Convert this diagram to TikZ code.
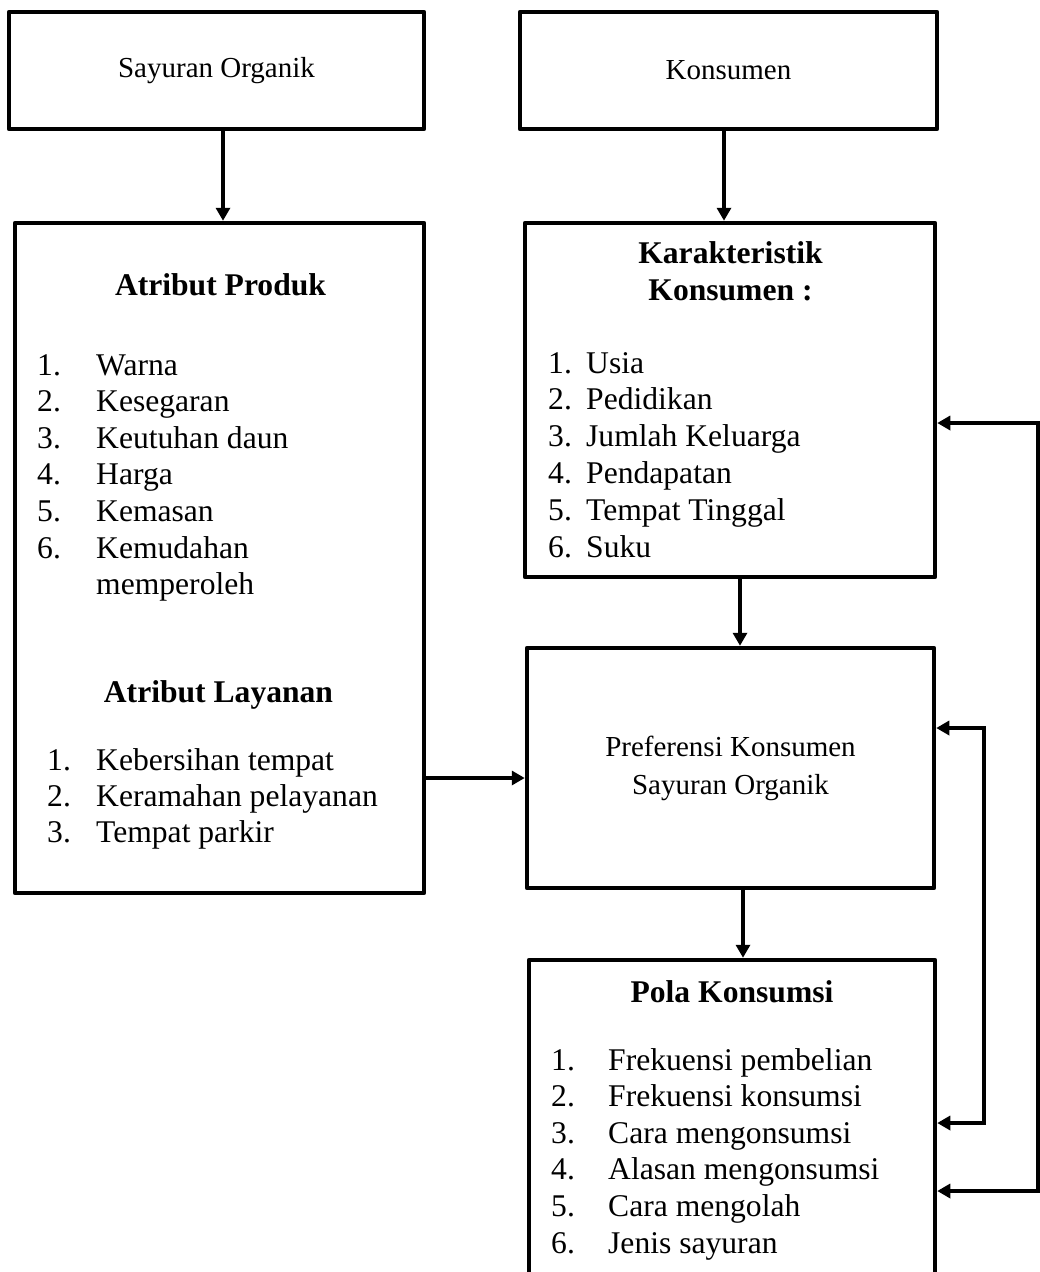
\documentclass[tikz,border=0pt]{standalone}
\usepackage{fontspec}
\setmainfont{Liberation Serif}
\usetikzlibrary{arrows.meta}
\begin{document}
\begin{tikzpicture}[x=1pt,y=-1pt,
  box/.style={draw, line width=4.5pt, line join=round, inner sep=0pt},
  conn/.style={line width=4pt, -{Triangle[length=13pt,width=14pt]}},
  conntwo/.style={line width=4pt, {Triangle[length=13pt,width=14pt]}-{Triangle[length=13pt,width=14pt]}},
  plain/.style={font=\fontsize{29}{38}\selectfont, align=center},
  item/.style={font=\fontsize{31.6}{36.6}\selectfont, anchor=base west, inner sep=0pt},
  head/.style={font=\fontsize{31.6}{36.6}\selectfont\bfseries, anchor=base, inner sep=0pt}]
\useasboundingbox (0,0) rectangle (1040,1272);
\clip (0,0) rectangle (1040,1272);

% boxes
\node[box, plain, minimum width=415pt, minimum height=117pt] (so) at (216.5,70.5) {\raisebox{-2.7pt}{Sayuran Organik}};
\node[box, plain, minimum width=417pt, minimum height=117pt] (ko) at (728.5,70.5) {\raisebox{-2.7pt}{Konsumen}};
\node[box, minimum width=409pt, minimum height=670pt] (ap) at (219.5,558) {};
\node[box, minimum width=410pt, minimum height=354pt] (kk) at (730,400) {};
\node[box, plain, minimum width=407pt, minimum height=240pt] (pk) at (730.5,768) {Preferensi Konsumen\\Sayuran Organik};
\node[box, minimum width=406pt, minimum height=340pt] (pola) at (732,1130) {};

% headings
\node[head] (hap) at (220.5,295) {Atribut Produk};
\node[head] (hal) at (218.5,702) {Atribut Layanan};
\node[head] (hk1) at (730.5,263) {Karakteristik};
\node[head] (hk2) at (730.5,300) {Konsumen :};
\node[head] (hpo) at (732,1002) {Pola Konsumsi};

% Atribut Produk list
\foreach \t [count=\i] in {Warna,Kesegaran,Keutuhan daun,Harga,Kemasan,Kemudahan} {
  \node[item] (apn\i) at (37,{375+(\i-1)*36.6}) {\i.};
  \node[item] (apt\i) at (96,{375+(\i-1)*36.6}) {\t};
}
\node[item] (apt7) at (96,594.6) {memperoleh};

% Atribut Layanan list
\foreach \t [count=\i] in {Kebersihan tempat,Keramahan pelayanan,Tempat parkir} {
  \node[item] (aln\i) at (47,{770+(\i-1)*36}) {\i.};
  \node[item] (alt\i) at (96,{770+(\i-1)*36}) {\t};
}

% Karakteristik list
\foreach \t [count=\i] in {Usia,Pedidikan,Jumlah Keluarga,Pendapatan,Tempat Tinggal,Suku} {
  \node[item] (kkn\i) at (548,{373+(\i-1)*36.8}) {\i.};
  \node[item] (kkt\i) at (586,{373+(\i-1)*36.8}) {\t};
}

% Pola Konsumsi list
\foreach \t [count=\i] in {Frekuensi pembelian,Frekuensi konsumsi,Cara mengonsumsi,Alasan mengonsumsi,Cara mengolah,Jenis sayuran} {
  \node[item] (pon\i) at (551,{1070+(\i-1)*36.6}) {\i.};
  \node[item] (pot\i) at (608,{1070+(\i-1)*36.6}) {\t};
}

% connectors
\draw[conn] ([xshift=6.5pt]so.south) -- ([xshift=6.5pt]so.south |- ap.north);
\draw[conn] ([xshift=-4.5pt]ko.south) -- ([xshift=-4.5pt]ko.south |- kk.north);
\draw[conn] ([xshift=10pt]kk.south) -- ([xshift=10pt]kk.south |- pk.north);
\draw[conn] ([xshift=12.5pt]pk.south) -- ([xshift=12.5pt]pk.south |- pola.north);
\draw[conn] ([yshift=-220pt]ap.east) -- ([yshift=-220pt]ap.east -| pk.west);

\coordinate (o1) at (1037.5,423);
\coordinate (o2) at (1037.5,1191);
\draw[conntwo] (o1 -| kk.east) -- (o1) -- (o2) -- (o2 -| pola.east);

\coordinate (i1) at (984,728);
\coordinate (i2) at (984,1123);
\draw[conntwo] (i1 -| pk.east) -- (i1) -- (i2) -- (i2 -| pola.east);
\end{tikzpicture}
\end{document}
